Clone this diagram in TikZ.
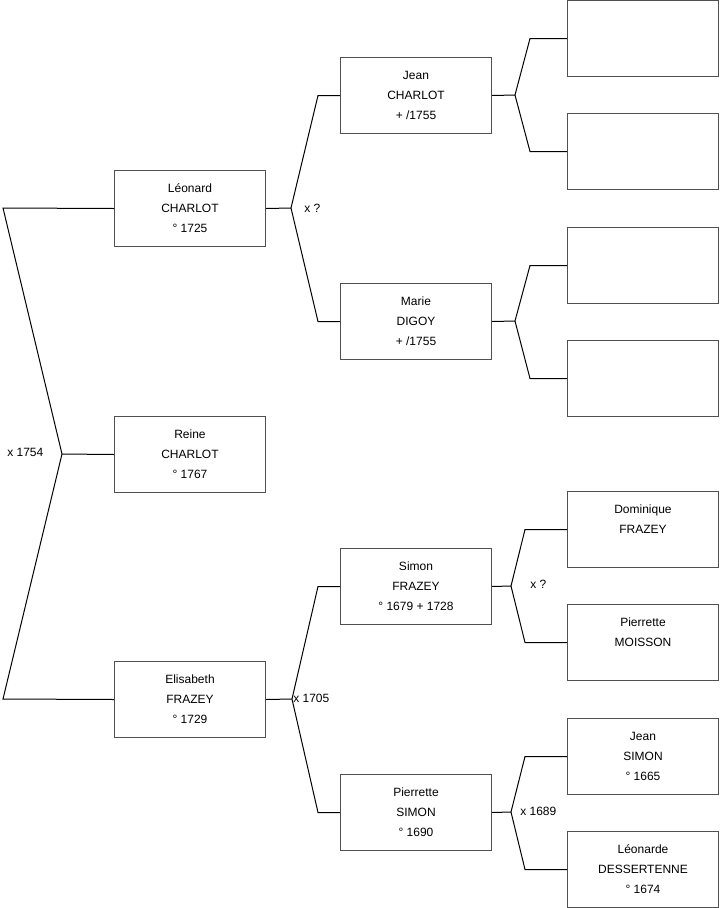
\documentclass[tikz,border=0pt]{standalone}
\usepackage{fontspec}
\setmainfont{Liberation Sans}
\usetikzlibrary{calc}
\definecolor{boxgray}{RGB}{80,80,80}
\begin{document}
\begin{tikzpicture}[x=0.75pt,y=-0.75pt,
  person/.style={draw=boxgray, line width=0.75pt, minimum width=113.25pt,
    minimum height=57pt, inner sep=0pt, align=center,
    font=\fontsize{9}{15}\selectfont, anchor=north west},
  link/.style={line width=0.75pt, black},
  lbl/.style={font=\fontsize{9}{11}\selectfont, inner sep=0pt, anchor=west}]
\useasboundingbox (0,0) rectangle (719,908);
% column 1
\node[person] (leo) at (114,170) {Léonard\\CHARLOT\\° 1725};
\node[person] (rei) at (114,416) {Reine\\CHARLOT\\° 1767};
\node[person] (eli) at (114,661) {Elisabeth\\FRAZEY\\° 1729};
% column 2
\node[person] (jea) at (340,57) {Jean\\CHARLOT\\+ /1755};
\node[person] (mar) at (340,283) {Marie\\DIGOY\\+ /1755};
\node[person] (sim) at (340,548) {Simon\\FRAZEY\\° 1679 + 1728};
\node[person] (pie) at (340,774) {Pierrette\\SIMON\\° 1690};
% column 3
\node[person] (e1) at (567,0) {};
\node[person] (e2) at (567,113) {};
\node[person] (e3) at (567,227) {};
\node[person] (e4) at (567,340) {};
\node[person] (dom) at (567,491) {Dominique\\FRAZEY\\\mbox{}};
\node[person] (pmo) at (567,604) {Pierrette\\MOISSON\\\mbox{}};
\node[person] (jsi) at (567,718) {Jean\\SIMON\\° 1665};
\node[person] (led) at (567,831) {Léonarde\\DESSERTENNE\\° 1674};
% vertices
\coordinate (a0) at (3,208);
\coordinate (b0) at (3,699);
\coordinate (v0) at (62,454);
\coordinate (v1) at (291,208);
\coordinate (v2) at (292,699);
\coordinate (v3) at (515,95);
\coordinate (v4) at (515,321);
\coordinate (v5) at (511,586);
\coordinate (v6) at (511,812);
% connectors
\draw[link] (leo.west) -- (a0) -- (v0) -- (b0) -- (eli.west);
\draw[link] (v0) -- (rei.west);
\draw[link] (leo.east) -- (v1);
\draw[link] (jea.west) -- ++(-22,0) -- (v1) -- ($(mar.west)+(-22*0.75pt,0)$) -- (mar.west);
\draw[link] (eli.east) -- (v2);
\draw[link] (sim.west) -- ++(-22,0) -- (v2) -- ($(pie.west)+(-22*0.75pt,0)$) -- (pie.west);
\draw[link] (jea.east) -- (v3);
\draw[link] (e1.west) -- ++(-37,0) -- (v3) -- ($(e2.west)+(-37*0.75pt,0)$) -- (e2.west);
\draw[link] (mar.east) -- (v4);
\draw[link] (e3.west) -- ++(-37,0) -- (v4) -- ($(e4.west)+(-37*0.75pt,0)$) -- (e4.west);
\draw[link] (sim.east) -- (v5);
\draw[link] (dom.west) -- ++(-42,0) -- (v5) -- ($(pmo.west)+(-42*0.75pt,0)$) -- (pmo.west);
\draw[link] (pie.east) -- (v6);
\draw[link] (jsi.west) -- ++(-42,0) -- (v6) -- ($(led.west)+(-42*0.75pt,0)$) -- (led.west);
% labels
\node[lbl] (l0) at (7,452) {x 1754};
\node[lbl] (l1) at (304,208) {x ?};
\node[lbl] (l2) at (293,698) {x 1705};
\node[lbl] (l3) at (530,584) {x ?};
\node[lbl] (l4) at (520,811) {x 1689};
\end{tikzpicture}
\end{document}
